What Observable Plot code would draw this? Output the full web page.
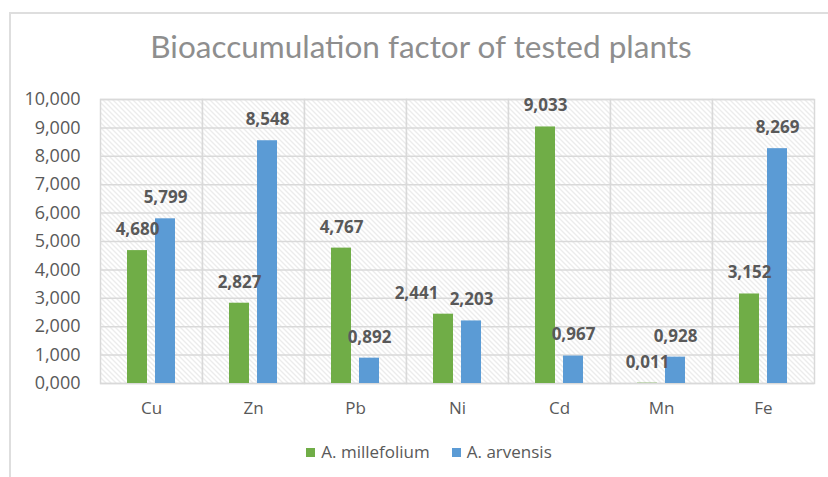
<!DOCTYPE html>
<html>
<head>
<meta charset="utf-8">
<script src="https://cdn.jsdelivr.net/npm/d3@7"></script>
<script src="https://cdn.jsdelivr.net/npm/@observablehq/plot@0.6"></script>
<style>
  html, body { margin: 0; padding: 0; background: #fff; }
  #wrap { position: relative; width: 828px; height: 477px; overflow: hidden; font-family: "Open Sans", sans-serif; }
  #border { position: absolute; left: 9px; top: 12px; width: 830px; height: 480px; border-left: 2px solid #dedede; border-top: 2px solid #dedede; }
  #title { position: absolute; left: 0; width: 842px; top: 27px; text-align: center; font-family: Lato, sans-serif; font-size: 31.5px; color: #8e8e8e; white-space: nowrap; }
  #chart { position: absolute; left: 0; top: 0; }
  #legend { position: absolute; left: 0; width: 858px; top: 440px; display: flex; justify-content: center; gap: 22px; font-size: 17px; color: #595959; white-space: nowrap; }
  .sw { display: inline-block; width: 9px; height: 9px; margin-right: 6px; vertical-align: 1px; }
  .item { display: inline-block; }
</style>
</head>
<body>
<div id="wrap">
  <div id="border"></div>
  <div id="chart"></div>
  <div id="title">Bioaccumulation factor of tested plants</div>
  <div id="legend"></div>
</div>
<script>
const metals = ["Cu", "Zn", "Pb", "Ni", "Cd", "Mn", "Fe"];
const seriesNames = ["A. millefolium", "A. arvensis"];
const millefolium = [4.680, 2.827, 4.767, 2.441, 9.033, 0.011, 3.152];
const arvensis = [5.799, 8.548, 0.892, 2.203, 0.967, 0.928, 8.269];
const yTicks = [0, 1, 2, 3, 4, 5, 6, 7, 8, 9, 10];
const colors = ["#70ad47", "#5b9bd5"];

const rows = [];
metals.forEach((m, i) => {
  rows.push({metal: m, species: seriesNames[0], value: millefolium[i]});
  rows.push({metal: m, species: seriesNames[1], value: arvensis[i]});
});
const fmt = v => v.toFixed(3).replace(".", ",");
// Excel nudged the crowded Ni / A. millefolium label to the left
const isShifted = d => d.metal === "Ni" && d.species === seriesNames[0];
const labelStyle = {fx: "metal", x: "species", y: "value", text: d => fmt(d.value), dy: -21, fontWeight: "bold", fontSize: 17, fill: "#595959"};

const svg = Plot.plot({
  width: 828,
  height: 477,
  marginTop: 99,
  marginBottom: 94,
  marginLeft: 97,
  marginRight: 11,
  style: {fontFamily: "'Open Sans', sans-serif", fontSize: "17px", color: "#595959", background: "transparent"},
  fx: {domain: metals, padding: 0, label: null, axis: null},
  x: {domain: seriesNames, paddingInner: 0.3, paddingOuter: 0.91, axis: null},
  y: {domain: [0, 10], label: null, axis: null},
  color: {domain: seriesNames, range: colors},
  marks: [
    Plot.frame({fill: "url(#hatch)", stroke: "#d9d9d9", strokeWidth: 1.5}),
    Plot.ruleY(yTicks, {stroke: "#d9d9d9", strokeWidth: 1.5}),
    Plot.barY(rows, {fx: "metal", x: "species", y: "value", fill: "species"}),
    Plot.text(rows.filter(d => !isShifted(d)), labelStyle),
    Plot.text(rows.filter(isShifted), {...labelStyle, dx: -27}),
    Plot.axisY(yTicks, {tickFormat: fmt, tickSize: 0, tickPadding: 20, fontSize: 18, fill: "#595959", label: null}),
    Plot.axisFx({anchor: "bottom", tickSize: 0, tickPadding: 18, fontSize: 17, fill: "#595959", label: null})
  ]
});

const ns = "http://www.w3.org/2000/svg";
const defs = document.createElementNS(ns, "defs");
defs.innerHTML = `<pattern id="hatch" patternUnits="userSpaceOnUse" width="5" height="5">
  <rect width="5" height="5" fill="#ffffff"/>
  <path d="M-1,-1 L6,6 M-1,4 L1,6 M4,-1 L6,1" stroke="#d9d9d9" stroke-width="1"/>
</pattern>`;
svg.insertBefore(defs, svg.firstChild);
document.getElementById("chart").appendChild(svg);

const legend = document.getElementById("legend");
seriesNames.forEach((s, i) => {
  const span = document.createElement("span");
  span.className = "item";
  span.innerHTML = `<span class="sw" style="background:${colors[i]}"></span>${s}`;
  legend.appendChild(span);
});
</script>
</body>
</html>
